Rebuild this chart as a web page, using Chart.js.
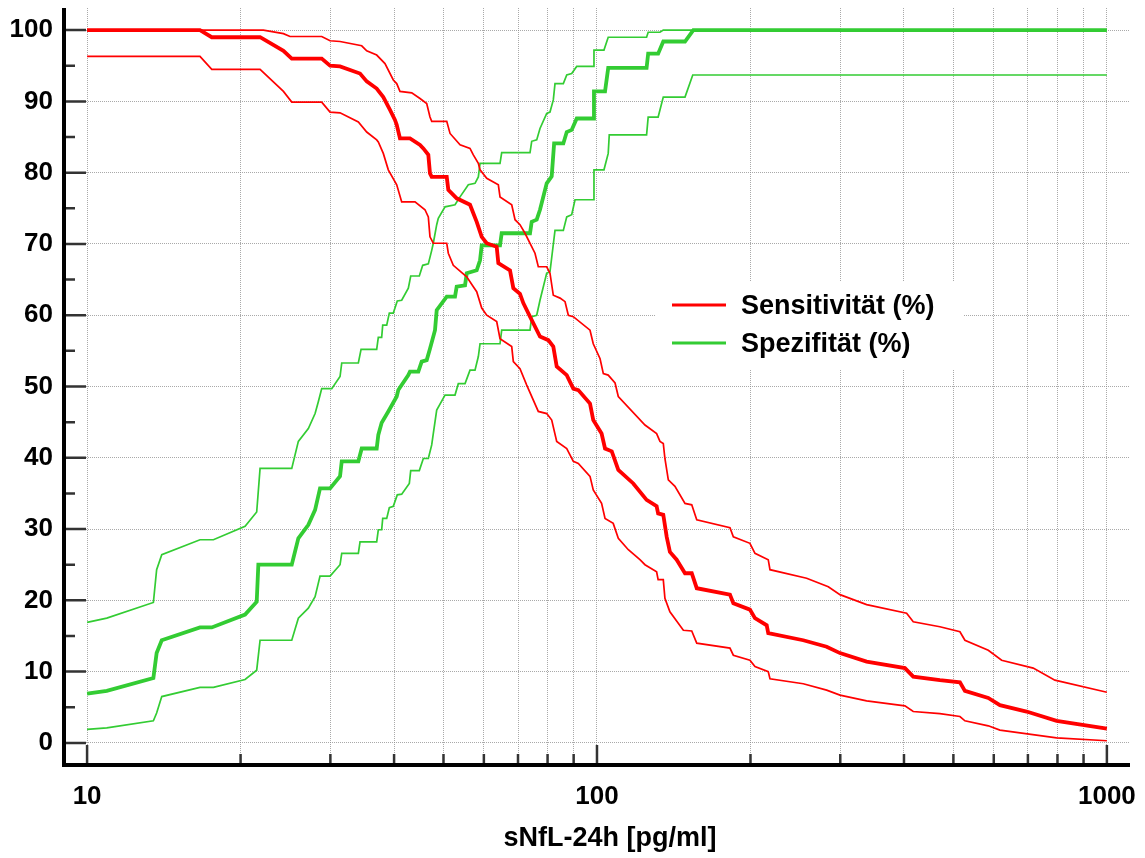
<!DOCTYPE html>
<html lang="de">
<head>
<meta charset="utf-8">
<title>Sensitivität und Spezifität</title>
<script src="https://cdn.jsdelivr.net/npm/chart.js@4.4.1/dist/chart.umd.min.js"></script>
<style>
  html, body { margin: 0; padding: 0; background: #fff; }
  #wrap { width: 1145px; height: 858px; }
</style>
</head>
<body>
<div id="wrap"><canvas id="chart" width="1145" height="858"></canvas></div>
<script>
// Grid values / tick labels
const xGrid = [10, 20, 30, 40, 50, 60, 70, 80, 90, 100, 200, 300, 400, 500, 600, 700, 800, 900, 1000];
const xLabelled = [10, 100, 1000];
const yTicks = [0, 10, 20, 30, 40, 50, 60, 70, 80, 90, 100];
const seriesNames = ["Sensitivität (%)", "Spezifität (%)"];
const xTitle = "sNfL-24h [pg/ml]";

// Sensitivity curve with its confidence band, [sNfL, %]
const sensitivity = [
  [10, 100], [16.65, 100], [17.56, 99], [21.84, 99], [24.27, 97.1], [25.2, 96], [28.85, 96],
  [29.96, 95], [31.34, 94.9], [34.3, 93.9], [35.35, 92.8], [36.98, 91.8], [38.1, 90.6],
  [39.27, 88.8], [40.16, 87.4], [40.48, 86.7], [41.08, 84.8], [42.98, 84.8], [44.97, 83.9],
  [45.65, 83.4], [46.69, 82.5], [47.04, 79.9], [47.41, 79.4], [50.74, 79.4], [51.1, 77.6],
  [53.07, 76.4], [56.36, 75.5], [57.21, 74.3], [58.09, 73.1], [59.42, 71.0], [60.78, 70.1],
  [63.58, 69.6], [64.05, 67.3], [67.52, 66.3], [68.54, 63.8], [70.63, 63.0], [71.7, 61.7],
  [73.9, 59.8], [77.31, 57.0], [80.27, 56.5], [82.1, 55.6], [83.37, 52.8], [87.23, 51.6],
  [89.86, 49.7], [91.91, 49.5], [96.9, 47.6], [98.33, 45.3], [102.1, 43.4], [103.7, 41.3],
  [106.9, 40.9], [110.1, 38.3], [117.8, 36.4], [125.1, 34.1], [130.9, 33.2], [131.8, 32.2],
  [134.9, 32.0], [137.0, 28.9], [139.0, 26.8], [143.3, 25.7], [148.8, 23.8], [153.4, 23.8],
  [156.9, 21.7], [182.3, 20.8], [185.1, 19.6], [199.5, 18.7], [204.1, 17.5], [215.2, 16.5],
  [216.7, 15.4], [253.8, 14.4], [282.1, 13.5], [299.6, 12.6], [337.9, 11.4], [401.7, 10.5],
  [417.1, 9.3], [470.4, 8.8], [515, 8.5], [526.7, 7.3], [585.3, 6.3], [616.9, 5.3],
  [695.8, 4.4], [796.9, 3.1], [1000, 2.0]
];
const sensitivityHi = [
  [10, 100], [22.17, 100], [24.27, 99.5], [25.0, 99.1], [28.85, 99.1], [29.96, 98.5],
  [31.34, 98.4], [34.56, 97.8], [35.35, 97.1], [36.98, 96.5], [38.39, 95.3], [39.86, 93.0],
  [40.48, 92.5], [41.08, 91.4], [43.32, 91.2], [44.97, 90.4], [46.35, 89.7], [47.04, 87.8],
  [47.41, 87.2], [50.74, 87.2], [51.5, 85.5], [53.88, 83.9], [56.36, 83.4], [57.21, 82.5],
  [58.52, 81.3], [58.97, 80.4], [60.78, 79.2], [64.05, 78.3], [64.54, 76.6], [68.04, 75.5],
  [69.07, 73.4], [70.63, 72.7], [72.25, 71.5], [75.58, 68.7], [76.72, 66.8], [79.69, 66.8],
  [80.88, 65.9], [82.1, 62.8], [84.64, 62.4], [86.57, 61.9], [87.86, 60.0], [89.86, 59.8],
  [96.9, 57.9], [98.33, 56.0], [101.4, 53.9], [102.9, 51.8], [105.2, 51.6], [108.5, 50.5],
  [110.1, 48.6], [124.2, 44.6], [130.9, 43.4], [132.9, 42.3], [134.9, 42.0], [135.9, 39.9],
  [138.0, 36.9], [142.2, 36.0], [148.8, 33.6], [153.4, 33.4], [156.9, 31.3], [182.3, 30.2],
  [185.1, 28.9], [199.5, 28.0], [204.1, 26.6], [216.7, 25.7], [218.4, 24.3], [257.7, 23.1],
  [284.2, 21.9], [299.6, 20.8], [337.9, 19.4], [404.8, 18.2], [417.1, 17.0], [470.4, 16.3],
  [515, 15.6], [526.7, 14.4], [585.3, 13.0], [621.7, 11.6], [717, 10.5], [790.7, 8.8],
  [1000, 7.1]
];
const sensitivityLo = [
  [10, 96.3], [16.65, 96.3], [17.56, 94.5], [21.84, 94.5], [24.27, 91.4], [25.2, 89.9],
  [28.85, 89.9], [29.96, 88.5], [31.34, 88.4], [34.04, 87.1], [35.35, 85.7], [36.98, 84.6],
  [37.25, 84.3], [38.1, 82.7], [38.97, 80.4], [40.48, 78.3], [41.4, 75.9], [43.97, 75.9],
  [45.99, 74.8], [46.69, 73.8], [47.04, 71.0], [47.75, 70.1], [50.74, 70.1], [51.1, 68.7],
  [52.26, 67.0], [55.53, 65.4], [57.21, 64.0], [58.09, 63.3], [59.42, 61.0], [60.78, 60.0],
  [63.58, 59.1], [64.54, 56.7], [68.04, 55.6], [68.54, 53.5], [70.63, 52.5], [72.81, 50.2],
  [76.72, 46.5], [79.69, 46.2], [81.51, 45.3], [83.37, 42.3], [87.23, 41.3], [89.86, 39.5],
  [91.91, 39.2], [96.9, 37.4], [98.33, 35.5], [102.1, 33.6], [103.7, 31.5], [107.6, 30.8],
  [110.1, 28.7], [115.2, 27.1], [121.4, 25.7], [124.2, 25.0], [130.9, 24.0], [131.8, 22.9],
  [134.9, 22.9], [135.9, 20.3], [139.0, 18.4], [147.7, 15.8], [153.4, 15.7], [156.9, 14.0],
  [182.3, 13.3], [185.1, 12.3], [199.5, 11.6], [204.1, 10.7], [216.7, 10.0], [218.4, 9.0],
  [253.8, 8.3], [282.1, 7.4], [299.6, 6.7], [337.9, 5.9], [401.7, 5.2], [417.1, 4.4],
  [470.4, 4.1], [515, 3.7], [526.7, 3.1], [585.3, 2.4], [616.9, 1.8], [796.9, 0.7],
  [1000, 0.3]
];

// Specificity curve with its confidence band
const specificity = [
  [10, 6.9], [10.93, 7.3], [13.49, 9.1], [13.69, 12.6], [14.01, 14.4], [16.65, 16.2],
  [17.56, 16.2], [20.41, 18.0], [21.51, 19.8], [21.67, 25.0], [25.2, 25.0], [25.96, 28.7],
  [27.16, 30.6], [28.0, 32.7], [28.63, 35.7], [29.96, 35.7], [31.34, 37.4], [31.58, 39.5],
  [34.04, 39.5], [34.56, 41.3], [36.98, 41.3], [37.25, 43.2], [37.82, 44.9], [38.97, 46.5],
  [40.48, 48.6], [40.77, 49.5], [42.66, 51.6], [42.98, 52.1], [44.63, 52.1], [45.31, 53.5],
  [46.35, 53.7], [47.04, 55.3], [48.12, 57.9], [48.49, 60.7], [50.74, 62.6], [52.67, 62.6],
  [53.07, 64.0], [55.11, 64.2], [55.53, 65.9], [58.09, 66.3], [58.97, 67.7], [59.42, 69.8],
  [64.54, 69.8], [65.03, 71.5], [73.9, 71.5], [74.47, 73.1], [76.17, 73.4], [77.31, 74.8],
  [79.69, 78.5], [81.51, 79.5], [82.4, 84.1], [85.9, 84.1], [87.23, 85.7], [89.21, 86.0],
  [91.25, 87.6], [98.33, 87.6], [98.65, 91.4], [103.7, 91.4], [105.2, 94.7], [125.1, 94.7],
  [126.0, 96.7], [131.8, 96.7], [134.9, 98.4], [148.8, 98.4], [154.5, 100], [1000, 100]
];
const specificityHi = [
  [10, 16.9], [10.93, 17.5], [13.49, 19.7], [13.69, 24.3], [14.01, 26.4], [16.65, 28.5],
  [17.69, 28.5], [20.41, 30.4], [21.51, 32.4], [21.84, 38.5], [25.2, 38.5], [25.96, 42.3],
  [27.16, 44.1], [28.0, 46.2], [28.42, 47.9], [28.85, 49.7], [30.19, 49.7], [31.34, 51.4],
  [31.58, 53.3], [34.04, 53.3], [34.46, 55.2], [36.98, 55.2], [37.25, 56.9], [37.82, 56.9],
  [38.0, 58.6], [38.69, 58.6], [39.15, 60.3], [39.86, 60.3], [40.58, 62.0], [41.4, 62.1],
  [42.66, 63.8], [43.12, 65.5], [44.83, 65.5], [45.52, 67.0], [46.69, 67.2], [47.41, 69.1],
  [47.75, 70.1], [48.49, 72.7], [48.84, 73.6], [50.35, 75.2], [52.67, 75.5], [53.88, 76.6],
  [55.93, 78.3], [57.65, 78.5], [58.52, 79.4], [58.97, 81.3], [64.54, 81.3], [65.03, 82.8],
  [73.9, 82.8], [74.47, 84.4], [76.17, 84.6], [77.31, 86.2], [79.69, 88.3], [80.88, 88.5],
  [82.1, 90.2], [82.73, 92.5], [85.9, 92.5], [87.23, 93.7], [89.21, 93.9], [91.25, 94.9],
  [98.33, 94.9], [98.65, 97.2], [103.2, 97.2], [105.2, 99.0], [125.1, 99.0], [126.0, 99.7],
  [132.9, 99.7], [134.9, 100], [1000, 100]
];
const specificityLo = [
  [10, 1.9], [10.93, 2.1], [13.49, 3.1], [13.69, 4.2], [14.01, 6.5], [16.65, 7.8],
  [17.69, 7.8], [20.41, 8.9], [21.51, 10.2], [21.84, 14.4], [25.2, 14.4], [25.96, 17.5],
  [27.16, 18.9], [28.0, 20.5], [28.63, 23.4], [29.96, 23.4], [31.34, 25.0], [31.58, 26.6],
  [34.04, 26.6], [34.3, 28.2], [36.98, 28.2], [37.25, 29.9], [37.82, 29.9], [38.0, 31.5],
  [38.69, 31.5], [39.15, 33.0], [39.86, 33.2], [40.58, 34.8], [41.4, 34.9], [42.85, 36.4],
  [43.12, 38.2], [44.83, 38.2], [45.65, 39.9], [46.69, 39.9], [47.41, 41.8], [47.75, 43.4],
  [48.49, 46.7], [50.35, 48.8], [52.67, 48.8], [53.46, 50.4], [55.11, 50.4], [56.36, 52.3],
  [57.65, 52.3], [58.52, 54.2], [58.97, 56.0], [64.54, 56.0], [65.03, 57.9], [73.9, 57.9],
  [74.47, 59.8], [76.17, 60.0], [77.31, 62.1], [79.69, 65.9], [80.88, 66.1], [82.73, 71.9],
  [85.9, 71.9], [87.23, 73.8], [89.21, 74.1], [90.56, 76.2], [98.33, 76.2], [98.65, 80.4],
  [103.2, 80.4], [105.2, 82.7], [105.7, 85.3], [125.1, 85.3], [126.0, 87.8], [131.8, 87.8],
  [134.9, 90.6], [148.8, 90.6], [154.1, 93.7], [1000, 93.7]
];

const RED = "#ff0000";
const GREEN = "#33cc33";
const FONT = "'Liberation Sans', Arial, sans-serif";

function toPoints(pairs) {
  return pairs.map(([x, y]) => ({ x, y }));
}

function curve(label, pairs, color, width) {
  return {
    label: label,
    data: toPoints(pairs),
    borderColor: color,
    borderWidth: width,
    pointRadius: 0,
    tension: 0,
    fill: false,
  };
}

// Inward tick marks, heavy axis lines and the x axis title
const axesPlugin = {
  id: "axesPlugin",
  afterDraw(chart) {
    const { ctx, chartArea: a } = chart;
    const x = chart.scales.x;
    const y = chart.scales.y;
    ctx.save();
    ctx.strokeStyle = "#333";
    ctx.lineWidth = 2.5;
    ctx.beginPath();
    yTicks.forEach((v, i) => {
      const py = y.getPixelForValue(v);
      ctx.moveTo(a.left, py);
      ctx.lineTo(a.left + 22, py);
      if (i < yTicks.length - 1) {
        const pm = y.getPixelForValue(v + 5);
        ctx.moveTo(a.left, pm);
        ctx.lineTo(a.left + 11, pm);
      }
    });
    xGrid.forEach((v) => {
      const px = x.getPixelForValue(v);
      const len = xLabelled.includes(v) ? 20 : 11;
      ctx.moveTo(px, a.bottom);
      ctx.lineTo(px, a.bottom - len);
    });
    ctx.stroke();

    ctx.strokeStyle = "#000";
    ctx.lineWidth = 4;
    ctx.beginPath();
    ctx.moveTo(a.left, a.top);
    ctx.lineTo(a.left, a.bottom + 2);
    ctx.moveTo(a.left - 2, a.bottom);
    ctx.lineTo(a.right, a.bottom);
    ctx.stroke();

    ctx.fillStyle = "#000";
    ctx.font = "bold 27px " + FONT;
    ctx.textAlign = "center";
    ctx.textBaseline = "middle";
    ctx.fillText(xTitle, 610, 839);
    ctx.restore();
  },
};

// Legend box inside the plot area
const legendPlugin = {
  id: "boxLegend",
  beforeDatasetsDraw(chart) {
    const ctx = chart.ctx;
    const items = [
      { text: seriesNames[0], color: RED, y: 305 },
      { text: seriesNames[1], color: GREEN, y: 343 },
    ];
    ctx.save();
    ctx.fillStyle = "#fff";
    ctx.fillRect(656, 281, 308, 89);
    ctx.lineWidth = 3;
    ctx.font = "bold 27px " + FONT;
    ctx.textBaseline = "middle";
    items.forEach((it) => {
      ctx.strokeStyle = it.color;
      ctx.beginPath();
      ctx.moveTo(672, it.y);
      ctx.lineTo(726, it.y);
      ctx.stroke();
      ctx.fillStyle = "#000";
      ctx.fillText(it.text, 741, it.y + 2);
    });
    ctx.restore();
  },
};

const ctx = document.getElementById("chart").getContext("2d");

new Chart(ctx, {
  type: "line",
  data: {
    datasets: [
      curve(seriesNames[0], sensitivity, RED, 3.8),
      curve("", sensitivityHi, RED, 1.7),
      curve("", sensitivityLo, RED, 1.7),
      curve(seriesNames[1], specificity, GREEN, 3.8),
      curve("", specificityHi, GREEN, 1.7),
      curve("", specificityLo, GREEN, 1.7),
    ],
  },
  options: {
    responsive: false,
    animation: false,
    layout: { padding: { top: 8, right: 15, left: 0, bottom: 0 } },
    plugins: {
      legend: { display: false },
      tooltip: { enabled: false },
    },
    scales: {
      x: {
        type: "logarithmic",
        min: 9.01,
        max: 1110,
        afterBuildTicks: (s) => {
          s.ticks = xGrid.map((v) => ({ value: v }));
        },
        afterFit: (s) => {
          s.height = 93;
          s.paddingLeft = 0;
          s.paddingRight = 0;
        },
        grid: { color: "rgba(140,140,140,0.75)", lineWidth: 1, drawTicks: false },
        border: { display: false, dash: [1, 1] },
        ticks: {
          autoSkip: false,
          maxRotation: 0,
          padding: 16,
          color: "#000",
          font: { family: FONT, size: 26, weight: "bold" },
          callback: (v) => (xLabelled.includes(v) ? String(v) : ""),
        },
      },
      y: {
        min: -3.1,
        max: 103.1,
        afterBuildTicks: (s) => {
          s.ticks = yTicks.map((v) => ({ value: v }));
        },
        afterFit: (s) => {
          s.width = 64;
          s.paddingTop = 0;
          s.paddingBottom = 0;
        },
        grid: { color: "rgba(140,140,140,0.75)", lineWidth: 1, drawTicks: false },
        border: { display: false, dash: [1, 1] },
        ticks: {
          padding: 11,
          color: "#000",
          font: { family: FONT, size: 26, weight: "bold" },
        },
      },
    },
  },
  plugins: [legendPlugin, axesPlugin],
});
</script>
</body>
</html>
